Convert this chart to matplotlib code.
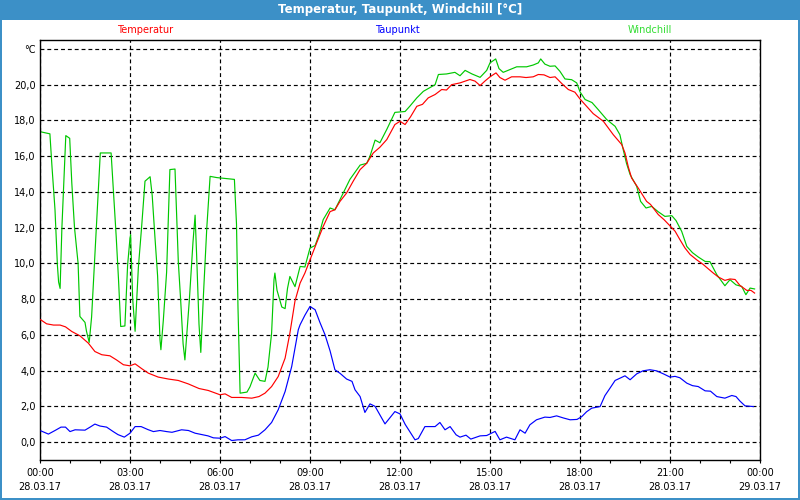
import matplotlib
matplotlib.use("Agg")
import matplotlib.pyplot as plt
from matplotlib.patches import Rectangle
from matplotlib.ticker import FixedLocator, MultipleLocator

# ---------------- data (hours since 28.03.17 00:00, °C) ----------------
temp_t = [0.02, 0.22, 0.45, 0.67, 0.85, 1.06, 1.33, 1.61, 1.83, 2.06, 2.33, 2.55, 2.78, 3.0, 3.17,
          3.4, 3.61, 3.94, 4.28, 4.61, 4.94, 5.3, 5.61, 6.0, 6.17, 6.39, 6.72, 7.06, 7.3, 7.5, 7.72,
          7.94, 8.17, 8.33, 8.5, 8.67, 8.83, 9.0, 9.22, 9.44, 9.67, 9.83, 10.0, 10.22, 10.44, 10.67,
          10.89, 11.11, 11.33, 11.56, 11.83, 12.0, 12.17, 12.35, 12.56, 12.75, 12.94, 13.17, 13.39,
          13.55, 13.72, 14.0, 14.33, 14.5, 14.67, 14.83, 15.0, 15.2, 15.33, 15.5, 15.72, 16.0, 16.2,
          16.44, 16.61, 16.8, 17.0, 17.17, 17.4, 17.61, 17.83, 18.0, 18.22, 18.44, 18.78, 19.11,
          19.39, 19.5, 19.61, 19.72, 19.94, 20.22, 20.35, 20.61, 20.8, 21.0, 21.17, 21.33, 21.5,
          21.67, 21.89, 22.1, 22.28, 22.45, 22.61, 22.83, 23.0, 23.17, 23.33, 23.56, 23.7, 23.82]
temp_v = [6.85, 6.62, 6.55, 6.55, 6.45, 6.19, 5.95, 5.54, 5.07, 4.89, 4.83, 4.6, 4.33, 4.27, 4.38,
          4.1, 3.86, 3.64, 3.53, 3.45, 3.26, 3.0, 2.89, 2.65, 2.7, 2.5, 2.5, 2.46, 2.55, 2.74, 3.11,
          3.67, 4.7, 6.1, 7.9, 8.9, 9.46, 10.2, 11.14, 12.07, 12.9, 13.0, 13.47, 13.94, 14.6, 15.25,
          15.6, 16.18, 16.5, 16.93, 17.77, 17.95, 17.77, 18.2, 18.79, 18.9, 19.26, 19.45, 19.73,
          19.7, 20.0, 20.1, 20.29, 20.2, 19.95, 20.2, 20.44, 20.66, 20.4, 20.25, 20.44, 20.44, 20.4,
          20.44, 20.57, 20.55, 20.4, 20.44, 20.05, 19.73, 19.58, 19.2, 18.79, 18.38, 17.95, 17.2,
          16.65, 16.18, 15.4, 14.78, 14.22, 13.47, 13.3, 12.73, 12.45, 12.1, 11.8, 11.33, 10.86,
          10.5, 10.2, 9.95, 9.69, 9.45, 9.24, 9.05, 9.13, 9.1, 8.77, 8.49, 8.49, 8.34]

dew_t = [0.03, 0.28, 0.5, 0.7, 0.85, 1.0, 1.17, 1.5, 1.67, 1.83, 2.0, 2.22, 2.44, 2.6, 2.81, 3.0,
         3.17, 3.37, 3.6, 3.78, 4.0, 4.22, 4.4, 4.72, 4.95, 5.17, 5.4, 5.6, 5.78, 6.0, 6.17, 6.39,
         6.6, 6.83, 7.06, 7.28, 7.5, 7.72, 7.94, 8.17, 8.39, 8.61, 8.67, 8.83, 9.0, 9.17, 9.33, 9.5,
         9.67, 9.83, 10.0, 10.22, 10.4, 10.5, 10.67, 10.83, 11.0, 11.17, 11.5, 11.83, 12.0, 12.17,
         12.5, 12.61, 12.83, 13.17, 13.33, 13.5, 13.67, 13.87, 14.0, 14.2, 14.36, 14.67, 14.89,
         15.17, 15.33, 15.55, 15.83, 16.0, 16.17, 16.33, 16.55, 16.83, 17.0, 17.22, 17.45, 17.67,
         17.9, 18.06, 18.22, 18.39, 18.67, 18.83, 19.0, 19.17, 19.5, 19.67, 19.89, 20.1, 20.33,
         20.55, 20.78, 21.0, 21.17, 21.33, 21.56, 21.75, 21.94, 22.17, 22.35, 22.56, 22.83, 23.06,
         23.2, 23.33, 23.5, 23.78]
dew_v = [0.63, 0.45, 0.65, 0.84, 0.84, 0.59, 0.69, 0.67, 0.84, 1.01, 0.9, 0.84, 0.59, 0.42, 0.28,
         0.5, 0.87, 0.87, 0.7, 0.59, 0.65, 0.59, 0.55, 0.69, 0.65, 0.5, 0.42, 0.35, 0.24, 0.22, 0.31,
         0.09, 0.13, 0.13, 0.3, 0.39, 0.69, 1.1, 1.81, 2.83, 4.23, 6.29, 6.57, 7.1, 7.59, 7.41, 6.7,
         6.01, 5.1, 4.05, 3.85, 3.53, 3.4, 2.93, 2.55, 1.66, 2.14, 2.0, 1.02, 1.71, 1.58, 1.0, 0.13,
         0.2, 0.87, 0.87, 1.1, 0.69, 0.87, 0.41, 0.28, 0.39, 0.17, 0.35, 0.37, 0.6, 0.13, 0.28, 0.13,
         0.69, 0.5, 0.97, 1.25, 1.4, 1.38, 1.47, 1.35, 1.25, 1.27, 1.43, 1.7, 1.9, 1.99, 2.6, 3.02,
         3.45, 3.71, 3.49, 3.82, 3.99, 4.05, 3.99, 3.82, 3.64, 3.68, 3.6, 3.3, 3.16, 3.11, 2.87,
         2.85, 2.55, 2.46, 2.61, 2.55, 2.3, 2.03, 1.99]

wind_t = [0.03, 0.33, 0.4, 0.5, 0.58, 0.62, 0.67, 0.73, 0.8, 0.86, 0.99, 1.06, 1.15, 1.27, 1.33,
          1.5, 1.55, 1.64, 1.72, 1.83, 1.94, 2.01, 2.37, 2.45, 2.54, 2.62, 2.69, 2.83, 2.92, 3.0,
          3.02, 3.09, 3.17, 3.28, 3.39, 3.5, 3.67, 3.74, 3.83, 3.92, 4.0, 4.03, 4.11, 4.22, 4.33,
          4.5, 4.55, 4.61, 4.69, 4.77, 4.83, 4.98, 5.1, 5.17, 5.22, 5.3, 5.36, 5.45, 5.56, 5.67,
          5.9, 6.2, 6.48, 6.55, 6.6, 6.67, 6.9, 7.0, 7.17, 7.33, 7.5, 7.6, 7.72, 7.8, 7.83, 7.9,
          8.06, 8.17, 8.25, 8.33, 8.5, 8.67, 8.83, 9.0, 9.17, 9.3, 9.44, 9.67, 9.83, 10.0, 10.33,
          10.67, 10.89, 11.0, 11.17, 11.33, 11.56, 11.83, 12.17, 12.33, 12.56, 12.78, 13.17, 13.28,
          13.55, 13.83, 14.0, 14.17, 14.4, 14.67, 14.89, 15.0, 15.19, 15.3, 15.44, 15.67, 15.89,
          16.22, 16.44, 16.61, 16.69, 16.83, 17.0, 17.17, 17.33, 17.5, 17.72, 17.89, 18.0, 18.17,
          18.4, 18.61, 18.89, 19.17, 19.33, 19.44, 19.55, 19.67, 19.89, 20.02, 20.2, 20.39, 20.6,
          20.83, 21.06, 21.2, 21.39, 21.56, 21.75, 21.94, 22.17, 22.33, 22.56, 22.83, 23.0, 23.2,
          23.39, 23.53, 23.67, 23.82]
wind_v = [17.36, 17.25, 15.4, 13.0, 9.9, 8.96, 8.6, 12.0, 14.8, 17.15, 17.0, 14.5, 12.0, 10.0, 7.03,
          6.7, 6.2, 5.58, 7.0, 10.5, 14.0, 16.18, 16.18, 14.0, 11.5, 9.0, 6.47, 6.5, 9.9, 11.42,
          11.6, 8.0, 6.2, 9.8, 12.1, 14.6, 14.85, 13.8, 11.5, 9.3, 5.73, 5.17, 6.8, 9.5, 15.25,
          15.28, 13.0, 10.1, 7.9, 5.5, 4.6, 8.0, 11.2, 12.7, 10.5, 6.6, 5.02, 8.3, 12.0, 14.87,
          14.8, 14.75, 14.7, 12.2, 7.5, 2.74, 2.8, 3.1, 3.86, 3.45, 3.4, 4.2, 6.1, 9.09, 9.46, 8.5,
          7.56, 7.47, 8.6, 9.27, 8.7, 9.83, 9.8, 10.86, 11.0, 11.6, 12.45, 13.1, 13.0, 13.57, 14.7,
          15.5, 15.6, 16.0, 16.9, 16.75, 17.5, 18.45, 18.5, 18.8, 19.26, 19.63, 20.0, 20.57,
          20.6, 20.69, 20.5, 20.8, 20.6, 20.41, 20.8, 21.22, 21.44, 20.9, 20.69, 20.85, 21.0,
          21.0, 21.1, 21.22, 21.44, 21.15, 21.03, 21.05, 20.75, 20.32, 20.28, 20.1, 19.6, 19.17,
          19.0, 18.6, 18.05, 17.67, 17.2, 16.37, 15.6, 14.97, 14.31, 13.47, 13.1, 13.19, 12.9,
          12.63, 12.67, 12.4, 11.79, 10.95, 10.6, 10.36, 10.11, 10.1, 9.37, 8.75, 9.09, 8.8,
          8.71, 8.25, 8.62, 8.57]

title = "Temperatur, Taupunkt, Windchill [°C]"
series_names = ["Temperatur", "Taupunkt", "Windchill"]
x_tick_hours = [0, 3, 6, 9, 12, 15, 18, 21, 24]
x_tick_labels = ["00:00\n28.03.17", "03:00\n28.03.17", "06:00\n28.03.17", "09:00\n28.03.17",
                 "12:00\n28.03.17", "15:00\n28.03.17", "18:00\n28.03.17", "21:00\n28.03.17",
                 "00:00\n29.03.17"]
y_ticks = [0, 2, 4, 6, 8, 10, 12, 14, 16, 18, 20, 22]
y_tick_labels = ["0,0", "2,0", "4,0", "6,0", "8,0", "10,0", "12,0", "14,0", "16,0", "18,0", "20,0", "°C"]

# ---------------- figure ----------------
BLUE_FRAME = "#3c90c7"
C_TEMP, C_DEW, C_WIND = "#ff0000", "#0000ff", "#00c800"

fig = plt.figure(figsize=(8, 5), dpi=100)
fig.patch.set_facecolor("white")

# title bar and window frame
fig.add_artist(Rectangle((0, 1 - 20 / 500), 1, 20 / 500, transform=fig.transFigure,
                         facecolor=BLUE_FRAME, edgecolor="none", zorder=0))
fig.add_artist(Rectangle((0, 0), 2 / 800, 1, transform=fig.transFigure,
                         facecolor=BLUE_FRAME, edgecolor="none"))
fig.add_artist(Rectangle((1 - 2 / 800, 0), 2 / 800, 1, transform=fig.transFigure,
                         facecolor=BLUE_FRAME, edgecolor="none"))
fig.add_artist(Rectangle((0, 0), 1, 2 / 500, transform=fig.transFigure,
                         facecolor=BLUE_FRAME, edgecolor="none"))
fig.text(0.5, 1 - 10 / 500, title, color="white", fontsize=8.5, fontweight="bold",
         ha="center", va="center")

ax = fig.add_axes([40 / 800, 40 / 500, 720 / 800, 420 / 500])
ax.plot(temp_t, temp_v, color=C_TEMP, lw=0.85, zorder=3)
ax.plot(wind_t, wind_v, color=C_WIND, lw=0.85, zorder=2)
ax.plot(dew_t, dew_v, color=C_DEW, lw=0.85, zorder=3)

ax.set_xlim(0, 24)
ax.set_ylim(-1, 22.5)

ax.xaxis.set_major_locator(FixedLocator(x_tick_hours))
ax.set_xticklabels(x_tick_labels, fontsize=7, linespacing=1.6)
ax.xaxis.set_minor_locator(MultipleLocator(1))
ax.tick_params(axis="x", which="both", direction="out", length=2.5, width=0.8, pad=3)

ax.yaxis.set_major_locator(FixedLocator(y_ticks))
ax.set_yticklabels(y_tick_labels, fontsize=7)
ax.tick_params(axis="y", length=0, pad=3)

ax.grid(True, which="major", color="black", linestyle=(0, (3.3, 2.5)), linewidth=0.85)
for s in ax.spines.values():
    s.set_color("black")
    s.set_linewidth(1.0)

# legend texts above the plot
for name, xpix, col in zip(series_names, [145, 397, 650], [C_TEMP, C_DEW, "#33dd33"]):
    fig.text(xpix / 800, 1 - 30 / 500, name, color=col, fontsize=7, ha="center", va="center")

fig.savefig("out.png", dpi=100)
